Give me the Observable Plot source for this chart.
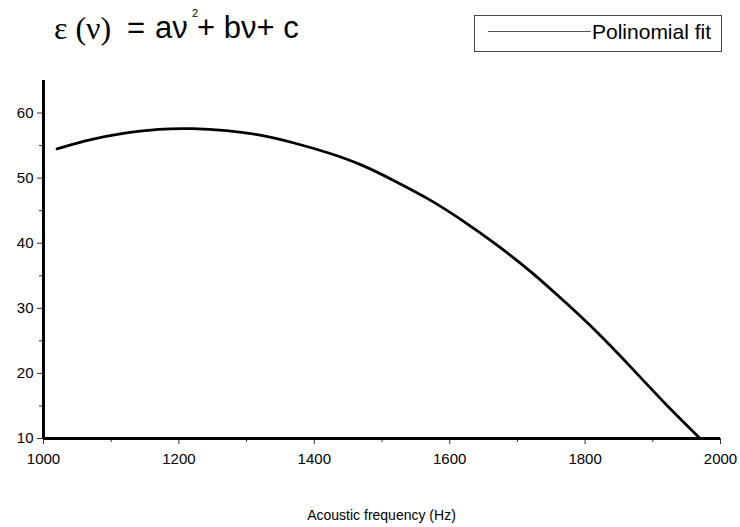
<!DOCTYPE html>
<html>
<head>
<meta charset="utf-8">
<script src="https://cdn.jsdelivr.net/npm/d3@7"></script>
<script src="https://cdn.jsdelivr.net/npm/@observablehq/plot@0.6"></script>
<style>
  body { margin: 0; background: #fff; }
  #wrap { position: relative; width: 740px; height: 527px; overflow: hidden; font-family: "Liberation Sans", Arial, sans-serif; }
  .t { position: absolute; top: 8px; font-size: 31px; line-height: 40px; white-space: nowrap; color: #000; }
  .serif { font-family: "Liberation Serif", "Times New Roman", serif; font-size: 32px; }
  .sup { position: absolute; top: 8px; font-size: 11px; line-height: 10px; color: #000; }
  #legend { position: absolute; left: 474px; top: 15px; width: 248px; height: 37px; border: 1.5px solid #444; box-sizing: border-box; }
  #legend .ln { position: absolute; left: 13px; top: 15px; width: 103px; height: 0; border-top: 1px solid #555; }
  #legend .tx { position: absolute; left: 117px; top: 4px; font-size: 21px; color: #000; }
  #chart { position: absolute; left: 0; top: 60px; }
  #chart svg text { font-size: 15px; }
  #xlabel { position: absolute; left: 0; width: 763px; top: 507px; text-align: center; font-size: 14px; color: #000; }
</style>
</head>
<body>
<div id="wrap">
  <div class="t serif" style="left:54px">ε (ν)</div>
  <div class="t" style="left:127px">=</div>
  <div class="t" style="left:155px; line-height:20px; top:18px">aν</div>
  <div class="sup" style="left:192px">2</div>
  <div class="t" style="left:197px; line-height:20px; top:18px">+ bν+ c</div>
  <div id="legend"><div class="ln"></div><div class="tx">Polinomial fit</div></div>
  <div id="chart"></div>
  <div id="xlabel">Acoustic frequency (Hz)</div>
</div>
<script>
const freq = [1020, 1070, 1120, 1170, 1220, 1270, 1320, 1370, 1420, 1470, 1520, 1570, 1620, 1670, 1720, 1770, 1820, 1870, 1920, 1970];
const eps  = [54.5, 55.9, 56.9, 57.5, 57.6, 57.3, 56.6, 55.4, 53.9, 52.0, 49.5, 46.7, 43.4, 39.7, 35.6, 31.0, 26.1, 20.7, 15.2, 10.0];
const xTicks = [1000, 1200, 1400, 1600, 1800, 2000];
const xMinor = [1100, 1300, 1500, 1700, 1900];
const yTicks = [10, 20, 30, 40, 50, 60];
const yMinor = [15, 25, 35, 45, 55];

const data = freq.map((f, i) => ({f, e: eps[i]}));

const chart = Plot.plot({
  width: 740,
  height: 418,
  marginLeft: 43,
  marginRight: 20,
  marginTop: 20,
  marginBottom: 40,
  style: {fontFamily: "Liberation Sans, Arial, sans-serif", fontSize: "15px", color: "#000", background: "#fff"},
  x: {domain: [1000, 2000]},
  y: {domain: [10, 65]},
  marks: [
    Plot.axisX({ticks: xTicks, tickFormat: "d", tickSize: 6, tickPadding: 9, label: null, stroke: "#333"}),
    Plot.axisX({ticks: xMinor, tickSize: 4, text: null, label: null, stroke: "#333"}),
    Plot.axisY({ticks: yTicks, tickFormat: "d", tickSize: 6, tickPadding: 4, label: null, stroke: "#333"}),
    Plot.axisY({ticks: yMinor, tickSize: 4, text: null, label: null, stroke: "#333"}),
    Plot.ruleX([1000], {stroke: "#000", strokeWidth: 3}),
    Plot.ruleY([10], {stroke: "#000", strokeWidth: 3}),
    Plot.line(data, {x: "f", y: "e", stroke: "#000", strokeWidth: 2.8, curve: "natural"})
  ]
});
document.getElementById("chart").appendChild(chart);
</script>
</body>
</html>
